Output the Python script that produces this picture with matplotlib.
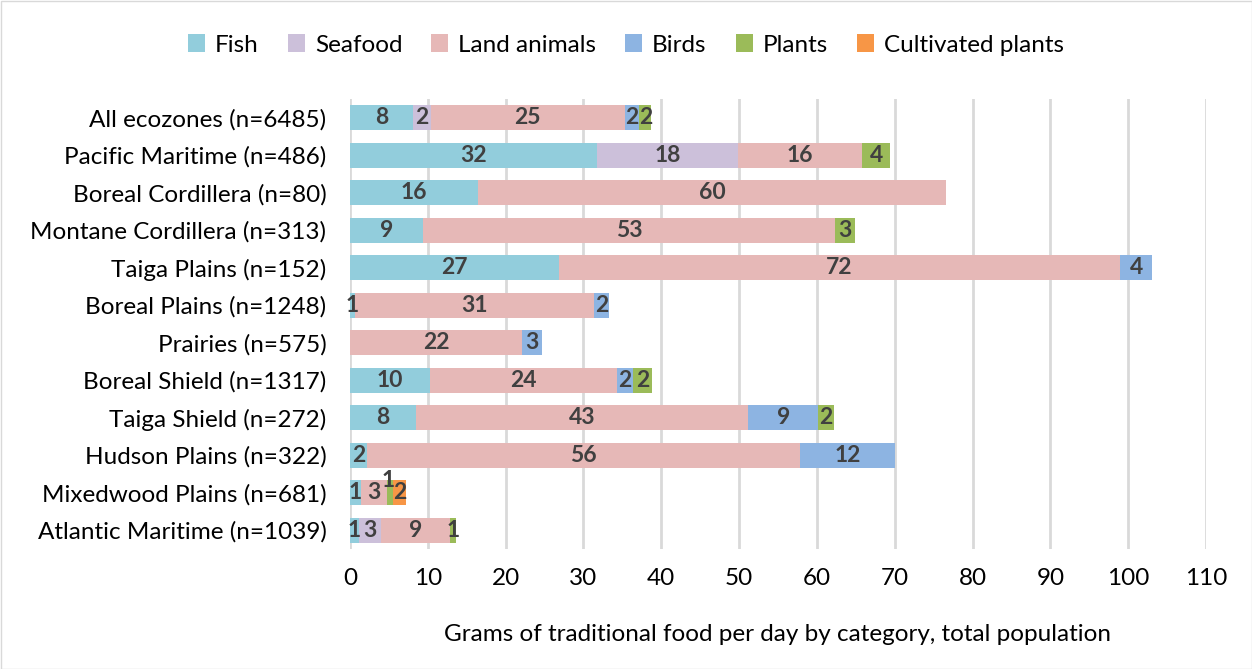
import matplotlib
matplotlib.use("Agg")
import matplotlib.pyplot as plt
import numpy as np

categories = ["All ecozones (n=6485)", "Pacific Maritime (n=486)", "Boreal Cordillera (n=80)",
              "Montane Cordillera (n=313)", "Taiga Plains (n=152)", "Boreal Plains (n=1248)",
              "Prairies (n=575)", "Boreal Shield (n=1317)", "Taiga Shield (n=272)",
              "Hudson Plains (n=322)", "Mixedwood Plains (n=681)", "Atlantic Maritime (n=1039)"]
series_names = ["Fish", "Seafood", "Land animals", "Birds", "Plants", "Cultivated plants"]
fish        = [8.1, 31.8, 16.5, 9.4, 26.8, 0.6, 0.0, 10.3, 8.5, 2.2, 1.4, 1.1]
seafood     = [2.3, 18.1, 0.0, 0.0, 0.0, 0.0, 0.0, 0.0, 0.0, 0.0, 0.0, 2.9]
land        = [24.9, 15.9, 60.1, 52.9, 72.2, 30.8, 22.1, 24.0, 42.7, 55.6, 3.4, 8.9]
birds       = [1.9, 0.0, 0.0, 0.0, 4.1, 1.9, 2.6, 2.1, 9.0, 12.2, 0.0, 0.0]
plants      = [1.5, 3.6, 0.0, 2.6, 0.0, 0.0, 0.0, 2.4, 2.0, 0.0, 0.7, 0.7]
cultivated  = [0.0, 0.0, 0.0, 0.0, 0.0, 0.0, 0.0, 0.0, 0.0, 0.0, 1.7, 0.0]
colors = ["#92CDDC", "#CCC0DA", "#E6B8B7", "#8DB4E2", "#9BBB59", "#F79646"]
xticks = list(range(0, 111, 10))

plt.rcParams['font.family'] = ['Lato', 'DejaVu Sans']
fig = plt.figure(figsize=(12.52, 6.69), dpi=100)
ax = fig.add_axes([350/1252, 1-549/669, (1206-350)/1252, (549-99)/669])

data = [fish, seafood, land, birds, plants, cultivated]
y = np.arange(len(categories))
left = np.zeros(len(categories))
for name, vals, col in zip(series_names, data, colors):
    vals = np.array(vals)
    ax.barh(y, vals, left=left, height=0.67, color=col, label=name, zorder=3)
    for i, v in enumerate(vals):
        if v > 0:
            dy = 0
            dx = 0
            if name == "Plants" and categories[i].startswith("Mixedwood"):
                dy = -0.33
                dx = -0.3
            ax.text(left[i] + v/2 + dx, y[i] + dy, f"{round(v):d}" if v >= 1 else "1",
                    ha="center", va="center", fontsize=16.5, fontweight="bold",
                    color="#404040", zorder=4)
    left += vals

ax.set_ylim(len(categories) - 0.5, -0.5)
ax.set_xlim(0, 110)
ax.set_xticks(xticks)
ax.set_xticklabels([str(t) for t in xticks], fontsize=17.5, color="#000000")
ax.set_yticks(y)
ax.set_yticklabels(categories, fontsize=17.5, color="#000000")
ax.tick_params(axis="both", length=0)
ax.tick_params(axis="x", pad=14)
ax.tick_params(axis="y", pad=17)
ax.grid(axis="x", color="#D9D9D9", linewidth=2, zorder=0)
for s in ax.spines.values():
    s.set_visible(False)
ax.set_xlabel("Grams of traditional food per day by category, total population",
              fontsize=17.5, labelpad=25)

leg = fig.legend(loc="center", bbox_to_anchor=(0.5, 1-45/669), ncol=6, frameon=False,
                 fontsize=17.5, handlelength=0.7, handleheight=0.7, handletextpad=0.4,
                 columnspacing=1.2)

fig.patches.append(plt.Rectangle((0.5/1252, 0.5/669), 1-1/1252, 1-1/669, transform=fig.transFigure,
                                 fill=False, edgecolor="#D9D9D9", linewidth=1))
fig.savefig("out.png", dpi=100)
